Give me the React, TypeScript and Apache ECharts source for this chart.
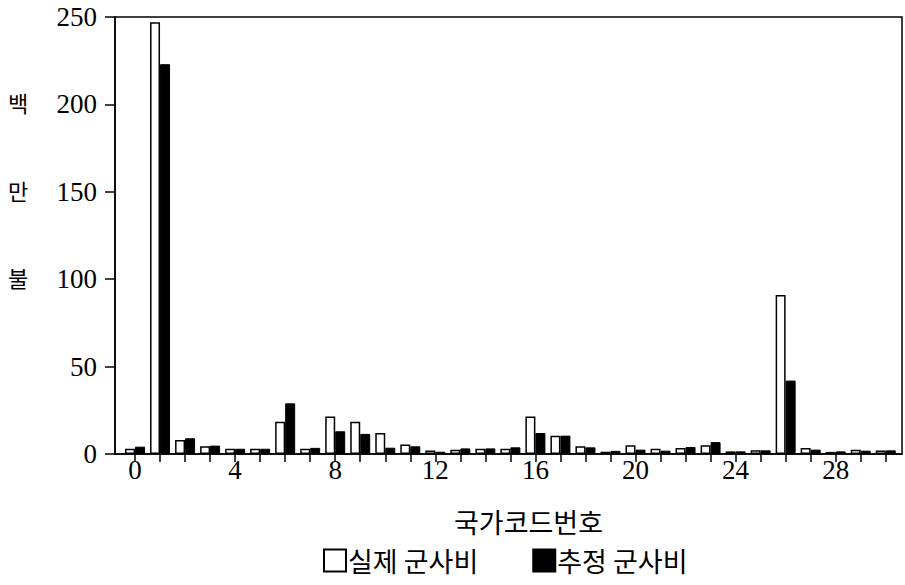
import React, { useEffect, useRef } from "react";
import * as echarts from "echarts";

const countryCodes = [0, 1, 2, 3, 4, 5, 6, 7, 8, 9, 10, 11, 12, 13, 14, 15, 16, 17, 18, 19, 20, 21, 22, 23, 24, 25, 26, 27, 28, 29, 30];
const actualSpending = [3, 247, 8, 4.5, 3, 3, 18.5, 3, 21.5, 18.5, 12, 5.5, 2, 2.5, 3, 3, 21.5, 10.5, 4.5, 1.3, 5, 3, 3.5, 5, 1.5, 2.2, 91, 3.5, 1.2, 2.5, 2];
const estimatedSpending = [4.2, 223, 9, 4.8, 3, 3, 29, 3.5, 13, 11.5, 3.6, 4.4, 1.3, 3.2, 3.2, 3.8, 12, 10.5, 3.8, 1.8, 2.5, 1.9, 4, 6.8, 1.5, 2.1, 42, 2.5, 1.5, 1.9, 2.1];
const xTickLabels = [0, 4, 8, 12, 16, 20, 24, 28];
const yUnitChars = ["백", "만", "불"];

const SERIF = "'Liberation Serif', 'DejaVu Serif', serif";
const KR = "'Noto Sans CJK KR', 'Noto Sans', sans-serif";

export default function App() {
  const ref = useRef<HTMLDivElement>(null);

  useEffect(() => {
    if (!ref.current) return;
    const chart = echarts.init(ref.current, undefined, { renderer: "svg" });
    const top = 17;
    const bottomY = 454;
    const span = bottomY - top;
    const unitY = [200, 150, 100].map((v) => bottomY - (v / 250) * span);

    chart.setOption({
      animation: false,
      backgroundColor: "#ffffff",
      grid: {
        left: 115,
        right: 3,
        top: top,
        bottom: 585 - bottomY,
        show: true,
        borderColor: "#000",
        borderWidth: 1.5,
        outerBoundsMode: "none",
        containLabel: false,
      },
      legend: {
        left: 318,
        top: 542,
        itemWidth: 22,
        itemHeight: 22,
        itemGap: 54,
        textStyle: { fontFamily: KR, fontSize: 27, color: "#000", padding: [0, 0, 0, -3] },
        data: [
          { name: "실제 군사비", icon: "rect" },
          { name: "추정 군사비", icon: "rect" },
        ],
      },
      xAxis: {
        type: "value",
        min: -0.8,
        max: 30.65,
        splitLine: { show: false },
        axisLine: { show: true, onZero: false, lineStyle: { color: "#000", width: 1.5 } },
        axisTick: {
          show: true,
          inside: false,
          length: 8,
          customValues: countryCodes,
          lineStyle: { color: "#000", width: 1.5 },
        },
        axisLabel: {
          customValues: xTickLabels,
          fontFamily: SERIF,
          fontSize: 27,
          lineHeight: 27,
          color: "#000",
          margin: 2,
        },
        name: "국가코드번호",
        nameLocation: "middle",
        nameGap: 54,
        nameTextStyle: { fontFamily: KR, fontSize: 27, color: "#000", padding: [0, 0, 0, 40] },
      },
      yAxis: {
        type: "value",
        min: 0,
        max: 250,
        interval: 50,
        splitLine: { show: false },
        axisLine: { show: true, onZero: false, lineStyle: { color: "#000", width: 1.5 } },
        axisTick: { show: true, inside: false, length: 10, lineStyle: { color: "#000", width: 1.5 } },
        axisLabel: {
          fontFamily: SERIF,
          fontSize: 27,
          color: "#000",
          margin: 18,
        },
      },
      graphic: yUnitChars.map((ch, i) => ({
        type: "text",
        left: 8,
        top: unitY[i] - 13,
        style: { text: ch, fontFamily: KR, fontSize: 22, fill: "#000" },
      })),
      series: [
        {
          name: "실제 군사비",
          type: "bar",
          barWidth: 10,
          barGap: "0%",
          itemStyle: { color: "#ffffff", borderColor: "#000", borderWidth: 1.5 },
          data: countryCodes.map((c, i) => [c, actualSpending[i]]),
        },
        {
          name: "추정 군사비",
          type: "bar",
          barWidth: 10,
          barGap: "0%",
          itemStyle: { color: "#000000", borderColor: "#000", borderWidth: 1 },
          data: countryCodes.map((c, i) => [c, estimatedSpending[i]]),
        },
      ],
    });

    return () => chart.dispose();
  }, []);

  return (
    <div
      ref={ref}
      style={{ position: "fixed", left: 0, top: 0, width: 905, height: 585, background: "#fff" }}
    />
  );
}
